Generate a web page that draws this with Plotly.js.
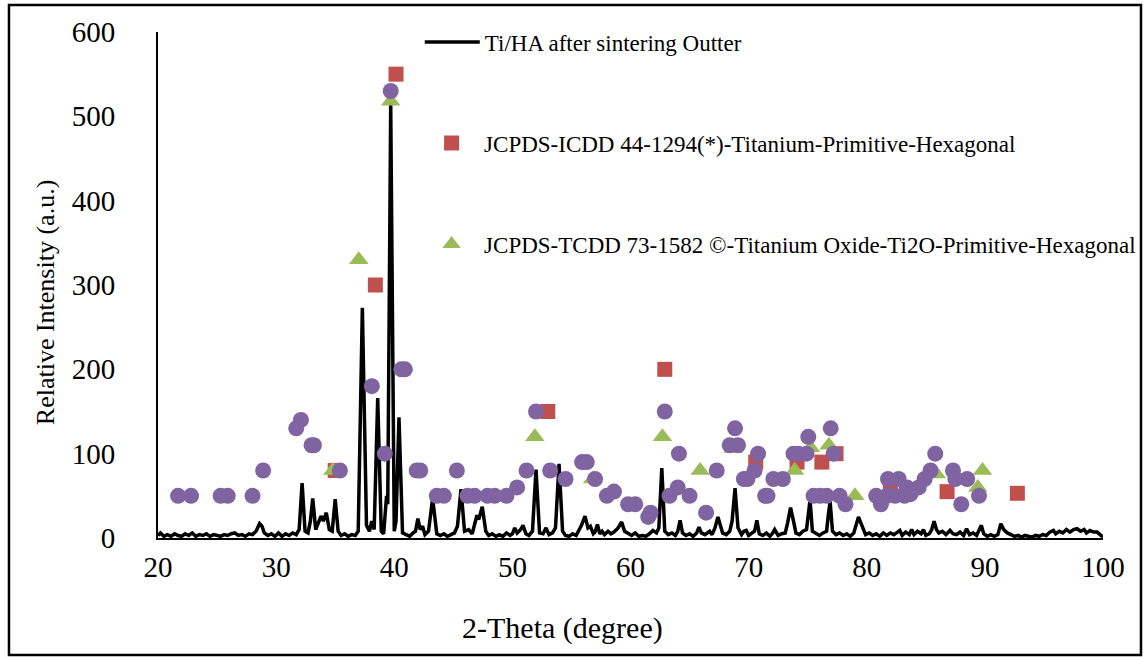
<!DOCTYPE html>
<html>
<head>
<meta charset="utf-8">
<script src="https://cdn.plot.ly/plotly-3.0.1.min.js"></script>
<style>html,body{margin:0;padding:0;background:#fff;}#chart{width:1146px;height:657px;}</style>
</head>
<body>
<div id="chart"></div>
<script>
// Measured XRD pattern (2-theta, intensity)
const lineX = [20.0,20.2,20.5,20.8,21.1,21.4,21.7,22.0,22.3,22.6,22.9,23.2,23.5,23.8,24.1,24.4,24.7,25.0,25.3,25.6,25.9,26.2,26.5,26.8,27.1,27.4,27.7,28.0,28.3,28.6,28.8,29.0,29.3,29.6,29.9,30.2,30.5,30.8,31.1,31.4,31.7,31.95,32.2,32.45,32.7,32.9,33.1,33.35,33.6,33.8,34.0,34.25,34.5,34.75,35.0,35.25,35.5,35.8,36.1,36.4,36.7,36.95,37.3,37.65,37.9,38.1,38.3,38.6,38.9,39.1,39.35,39.45,39.7,40.0,40.15,40.4,40.7,41.0,41.3,41.6,41.8,42.0,42.2,42.4,42.6,42.9,43.25,43.6,43.9,44.2,44.5,44.8,45.1,45.35,45.65,45.95,46.3,46.6,46.8,47.0,47.15,47.45,47.75,48.0,48.3,48.6,48.9,49.2,49.5,49.8,50.0,50.2,50.4,50.7,50.9,51.15,51.4,51.7,52.0,52.3,52.6,52.85,53.1,53.4,53.65,53.95,54.25,54.5,54.8,55.1,55.4,55.6,55.85,56.15,56.4,56.6,56.85,57.0,57.2,57.4,57.6,57.8,58.1,58.35,58.6,58.95,59.25,59.5,59.8,60.1,60.4,60.7,61.0,61.3,61.6,61.9,62.2,62.4,62.65,62.9,63.2,63.5,63.8,64.0,64.2,64.4,64.7,65.0,65.3,65.6,65.8,66.0,66.3,66.7,66.9,67.15,67.4,67.6,67.8,68.1,68.4,68.6,68.85,69.1,69.4,69.6,69.8,70.0,70.3,70.5,70.7,70.9,71.2,71.5,71.8,72.0,72.2,72.5,72.8,73.1,73.3,73.55,73.8,74.0,74.3,74.6,74.9,75.05,75.2,75.4,75.7,76.0,76.3,76.6,76.75,76.9,77.1,77.4,77.7,78.0,78.3,78.6,78.9,79.1,79.3,79.5,79.7,79.9,80.2,80.5,80.8,81.1,81.4,81.7,82.0,82.3,82.6,82.8,83.0,83.3,83.6,83.8,84.0,84.3,84.6,84.8,85.0,85.3,85.5,85.7,85.9,86.1,86.4,86.7,87.05,87.3,87.6,87.9,88.2,88.45,88.7,89.0,89.3,89.5,89.7,89.9,90.2,90.5,90.8,91.1,91.35,91.6,91.9,92.2,92.5,92.8,93.1,93.4,93.7,94.0,94.3,94.6,94.9,95.2,95.5,95.8,96.0,96.3,96.6,96.9,97.2,97.5,97.8,98.1,98.4,98.6,98.9,99.2,99.5,99.8,100.0];
const lineY = [3,6,2,4,2,5,3,2,5,3,6,2,4,3,5,2,4,3,2,4,3,5,6,3,4,2,5,4,8,17,14,6,3,5,2,6,2,5,3,6,4,10,65,8,6,20,47,10,18,26,20,30,10,8,46,8,3,5,2,4,3,8,273,15,8,20,10,166,8,5,50,40,515,8,20,143,6,4,2,6,8,23,10,14,4,8,47,5,3,5,2,4,6,14,58,8,10,5,15,27,22,37,8,3,5,2,4,2,6,3,5,12,6,10,15,5,3,8,81,6,5,12,4,6,12,88,8,3,2,5,3,8,15,26,12,14,5,7,16,5,8,4,8,5,7,12,19,8,5,3,6,2,3,2,5,9,6,12,83,8,4,6,3,8,21,6,3,5,2,6,13,6,4,8,4,12,25,16,6,4,8,20,59,12,4,8,9,3,6,8,21,5,3,6,2,5,10,3,5,6,18,36,20,6,4,8,10,30,45,8,5,3,6,8,28,43,8,4,6,3,5,2,6,14,25,18,12,4,6,3,5,2,6,3,6,4,7,9,3,7,4,10,4,8,5,10,3,5,10,20,10,6,8,4,9,5,4,7,3,11,4,6,3,8,15,5,2,4,2,4,17,10,6,4,2,3,1,3,2,1,3,2,4,3,7,9,5,8,6,10,7,10,11,8,10,6,9,7,7,3,1];

// JCPDS-ICDD 44-1294 (Titanium) reference peaks
const tiX = [35.0,38.4,40.15,53.0,62.9,70.6,74.1,76.2,77.4,82.0,86.8,92.75];
const tiY = [80,300,550,150,200,90,90,90,100,57,55,53];

// JCPDS 73-1582 (Ti2O) reference peaks
const ti2oX = [34.8,37.0,39.7,51.9,56.8,62.7,65.9,68.7,73.9,75.25,76.8,79.0,85.9,89.4,89.8];
const ti2oY = [80,330,518,120,70,120,80,106,80,107,110,50,76,60,80];

// Additional (unlabelled) reference peaks
const otherX = [21.7,22.8,25.3,25.9,28.0,28.9,31.7,32.1,33.0,33.2,35.4,38.1,39.2,39.7,40.6,40.9,41.9,42.2,43.6,44.2,45.3,46.2,46.8,47.9,48.5,49.5,50.4,51.2,52.0,53.2,54.5,55.9,56.3,57.0,58.0,58.6,59.8,60.4,61.5,61.7,62.9,63.3,64.0,64.1,65.0,66.4,67.3,68.4,68.85,69.1,69.6,69.9,70.5,70.8,71.4,71.6,72.1,72.9,73.8,74.2,74.9,75.05,75.5,76.05,76.6,76.95,77.2,77.7,78.2,80.8,81.2,81.7,81.8,82.4,82.7,83.2,83.7,83.4,84.4,84.9,85.4,85.8,87.3,87.5,88.0,88.5,89.5];
const otherY = [50,50,50,50,50,80,130,140,110,110,80,180,100,530,200,200,80,80,50,50,80,50,50,50,50,50,60,80,150,80,70,90,90,70,50,55,40,40,25,30,150,50,60,100,50,30,80,110,130,110,70,70,80,100,50,50,70,70,100,100,100,120,50,50,50,130,100,50,40,50,40,50,70,50,70,50,52,60,60,70,80,100,80,70,40,70,50];

const seriesNames = [
  "Ti/HA after sintering Outter",
  "JCPDS-ICDD 44-1294(*)-Titanium-Primitive-Hexagonal",
  "JCPDS-TCDD 73-1582 ©-Titanium Oxide-Ti2O-Primitive-Hexagonal"
];
const xTicks = [20,30,40,50,60,70,80,90,100];
const yTicks = [0,100,200,300,400,500,600];

const FONT = "'Liberation Serif', 'Times New Roman', serif";

const traces = [
  {x: lineX, y: lineY, type: 'scatter', mode: 'lines', name: seriesNames[0],
   line: {color: '#000000', width: 3.5}, legend: 'legend'},
  {x: tiX, y: tiY, type: 'scatter', mode: 'markers', name: seriesNames[1],
   marker: {symbol: 'square', size: 15, color: '#C0504D'}, legend: 'legend2'},
  {x: ti2oX, y: ti2oY, type: 'scatter', mode: 'markers', name: seriesNames[2],
   marker: {symbol: 'triangle-up', size: 17, color: '#9BBB59'}, legend: 'legend3'},
  {x: otherX, y: otherY, type: 'scatter', mode: 'markers', name: 'other',
   marker: {symbol: 'circle', size: 16, color: '#8064A2'}, showlegend: false}
];

const legBase = {font: {family: FONT, size: 23, color: '#000'}, bgcolor: 'rgba(0,0,0,0)',
  xanchor: 'left', yanchor: 'middle', itemwidth: 55};

const layout = {
  width: 1146, height: 657,
  margin: {l: 158, r: 43, t: 32, b: 119, autoexpand: false},
  paper_bgcolor: '#fff', plot_bgcolor: '#fff',
  font: {family: FONT, color: '#000'},
  xaxis: {range: [20, 100], tickvals: xTicks, ticktext: xTicks.map(String), automargin: false,
    showgrid: false, zeroline: false, showline: true, linecolor: '#000', linewidth: 2,
    ticks: '', ticklabelstandoff: 2, tickfont: {family: FONT, size: 29, color: '#000'}},
  yaxis: {range: [0, 600], tickvals: yTicks, ticktext: yTicks.map(String), automargin: false,
    showgrid: false, zeroline: false, showline: true, linecolor: '#000', linewidth: 2,
    ticks: '', ticklabelstandoff: 35, tickfont: {family: FONT, size: 29, color: '#000'}},
  showlegend: true,
  legend: Object.assign({}, legBase, {x: 0.277, y: 0.980}),
  legend2: Object.assign({}, legBase, {x: 0.2763, y: 0.7806}),
  legend3: Object.assign({}, legBase, {x: 0.2763, y: 0.581}),
  annotations: [
    {text: 'Relative Intensity (a.u.)', xref: 'paper', yref: 'paper', x: -0.1196, y: 0.466,
     textangle: -90, showarrow: false, xanchor: 'center', yanchor: 'middle',
     font: {family: FONT, size: 26, color: '#000'}},
    {text: '2-Theta (degree)', xref: 'paper', yref: 'paper', x: 0.428, y: -0.1779,
     showarrow: false, xanchor: 'center', yanchor: 'middle',
     font: {family: FONT, size: 30, color: '#000'}}
  ],
  shapes: [
    {type: 'rect', xref: 'paper', yref: 'paper', x0: -0.1577, x1: 1.0402, y0: -0.2312, y1: 1.0534,
     line: {color: '#000', width: 2.5}, fillcolor: 'rgba(0,0,0,0)', layer: 'above'}
  ]
};

Plotly.newPlot('chart', traces, layout, {displayModeBar: false, staticPlot: true});
</script>
</body>
</html>
